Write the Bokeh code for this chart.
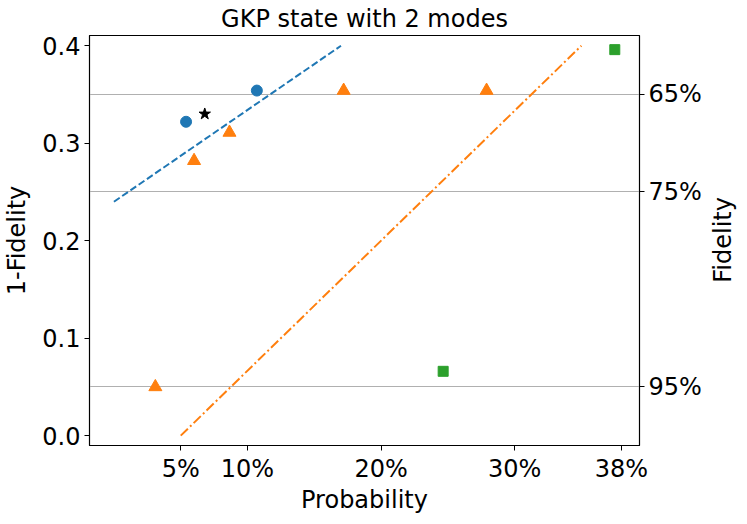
from bokeh.plotting import figure
from bokeh.models import Range1d, LinearAxis, FixedTicker, Div
from bokeh.layouts import row
from bokeh.embed import file_html
from bokeh.resources import INLINE

# --- data ---
blue_x = [0.054, 0.107]
blue_y = [0.322, 0.354]
star_x = [0.068]
star_y = [0.330]
orange_x = [0.031, 0.060, 0.0865, 0.172, 0.279]
orange_y = [0.050, 0.282, 0.311, 0.354, 0.354]
green_x = [0.2465, 0.375]
green_y = [0.066, 0.396]
blue_fit_x = [0.0, 0.17]
blue_fit_y = [0.24, 0.40]
orange_fit_x = [0.05, 0.35]
orange_fit_y = [0.0, 0.40]

x_ticks = [0.05, 0.10, 0.20, 0.30, 0.38]
x_labels = ["5%", "10%", "20%", "30%", "38%"]
y_ticks = [0.0, 0.1, 0.2, 0.3, 0.4]
fid_ticks = [0.35, 0.25, 0.05]
fid_labels = ["65%", "75%", "95%"]

FONT = "DejaVu Sans"
FW, FH = 550, 410

p = figure(width=700, height=508, output_backend="svg", toolbar_location=None,
           x_range=Range1d(-0.0183, 0.3935), y_range=Range1d(-0.0101, 0.4105),
           min_border_left=88, min_border_right=62, min_border_top=32, min_border_bottom=66)
p.frame_width = FW
p.frame_height = FH

p.title.text = "GKP state with 2 modes"
p.title.align = "center"
p.title.text_font = FONT
p.title.text_font_size = "24px"
p.title.text_font_style = "normal"
p.title.text_color = "black"
p.title.standoff = 5

p.xgrid.visible = False
p.ygrid.visible = False
p.outline_line_color = "black"
p.outline_line_width = 1.2
p.outline_line_alpha = 1.0

# reference lines
p.hspan(y=fid_ticks, line_color="#b0b0b0", line_width=1.2)

# fits
p.line(blue_fit_x, blue_fit_y, line_color="#1f77b4", line_width=2, line_dash="7 3")
p.line(orange_fit_x, orange_fit_y, line_color="#ff7f0e", line_width=2, line_dash="10 3 2 3")

# points
p.scatter(blue_x, blue_y, marker="circle", size=11, color="#1f77b4")
p.scatter(star_x, star_y, marker="star", size=12, color="black")
p.scatter(orange_x, orange_y, marker="triangle", size=13, color="#ff7f0e")
p.scatter(green_x, green_y, marker="square", size=10, color="#2ca02c")

def style_axis(ax):
    ax.major_label_text_font = FONT
    ax.major_label_text_font_size = "24px"
    ax.major_label_text_color = "black"
    ax.axis_label_text_font = FONT
    ax.axis_label_text_font_size = "24px"
    ax.axis_label_text_font_style = "normal"
    ax.axis_label_text_color = "black"
    ax.major_tick_in = 0
    ax.major_tick_out = 5
    ax.minor_tick_out = 0
    ax.minor_tick_in = 0
    ax.axis_line_color = "black"
    ax.major_tick_line_color = "black"
    ax.major_label_standoff = 4

xa = p.xaxis[0]
xa.ticker = FixedTicker(ticks=x_ticks)
xa.major_label_overrides = {t: l for t, l in zip(x_ticks, x_labels)}
xa.axis_label = "Probability"
style_axis(xa)
xa.axis_label_standoff = 0

ya = p.yaxis[0]
ya.ticker = FixedTicker(ticks=y_ticks)
ya.major_label_overrides = {t: f"{t:.1f}" for t in y_ticks}
ya.axis_label = "1-Fidelity"
style_axis(ya)
ya.axis_label_standoff = 8

ra = LinearAxis(ticker=FixedTicker(ticks=fid_ticks),
                major_label_overrides={t: l for t, l in zip(fid_ticks, fid_labels)})
style_axis(ra)
p.add_layout(ra, "right")

# right-hand axis title, reading bottom to top like matplotlib's twin-axis label
label_div = Div(
    width=28, height=508,
    text=('<div style="writing-mode: vertical-rl; transform: rotate(180deg); '
          'font-family: \'DejaVu Sans\'; font-size: 24px; color: black; '
          'line-height: 28px; margin-top: 192px; white-space: nowrap;">Fidelity</div>'),
)

layout = row(p, label_div, spacing=0)

open("out.html", "w").write(file_html(layout, INLINE))
